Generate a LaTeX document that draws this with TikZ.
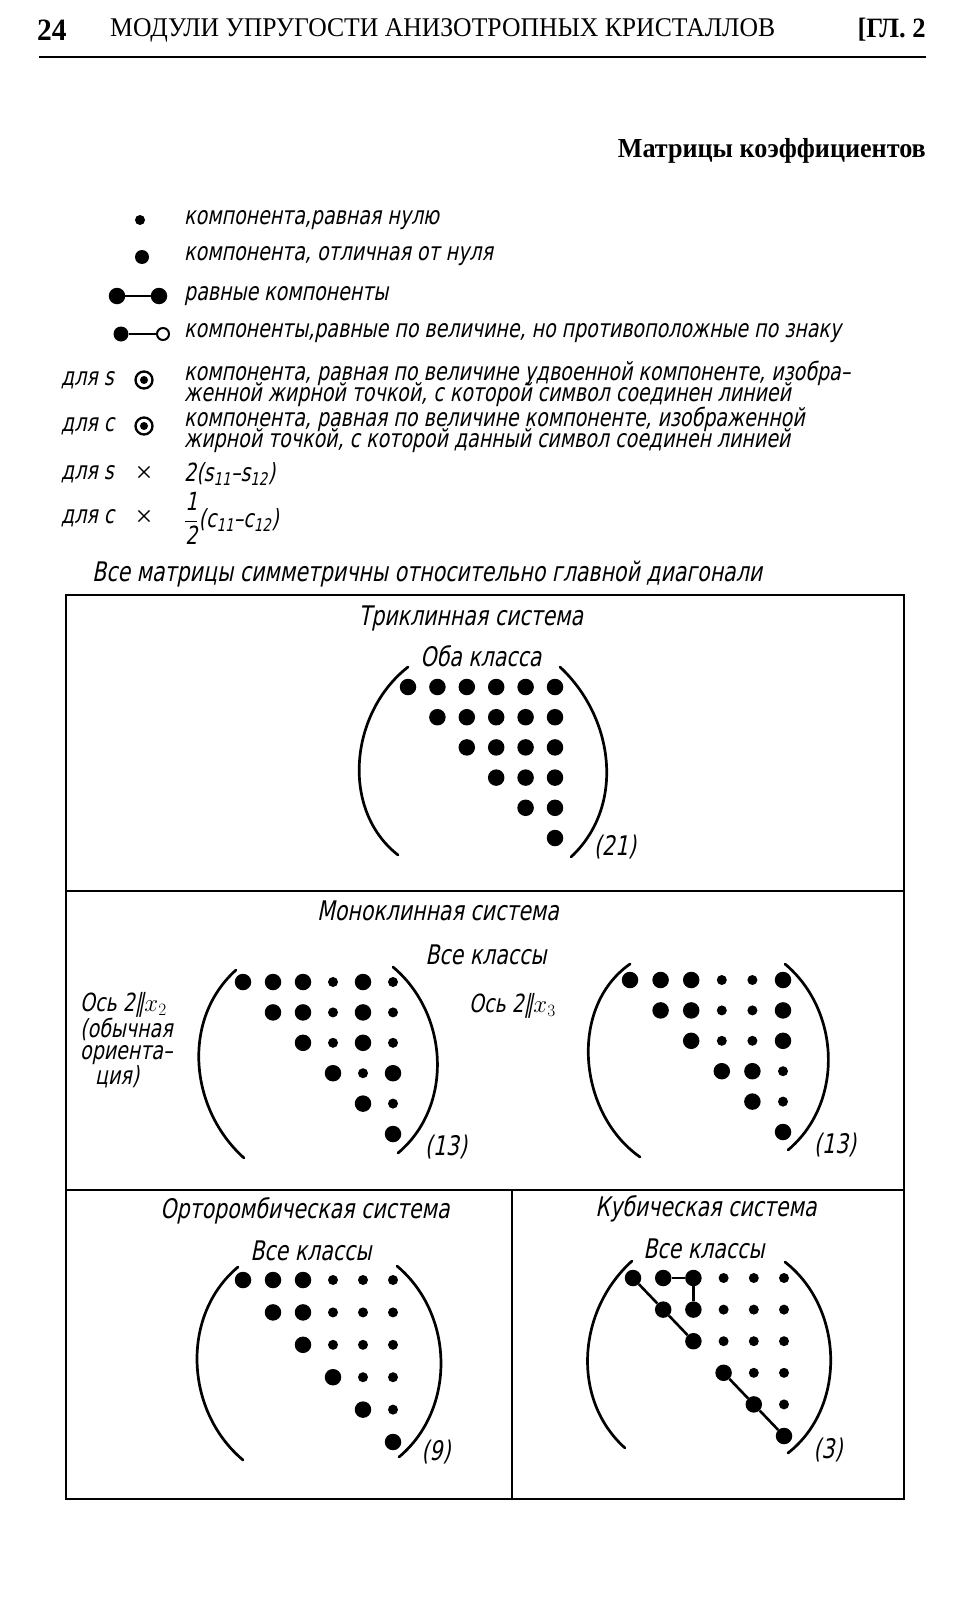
\documentclass[tikz,border=0pt]{standalone}
\usepackage{fontspec}
\setmainfont{Liberation Serif}
\newfontfamily\gost[FakeStretch=0.76,FakeSlant=0.2]{DejaVu Sans}
\newfontfamily\headfont[FakeStretch=0.95]{Liberation Serif}
\usetikzlibrary{positioning}
\newcommand{\tightlines}{\lineskiplimit=-40pt\relax}

% one triangular dot matrix: prefix, dx, dy, list of rows
\newcommand{\dotrows}[4]{%
  \foreach \rw [count=\ri] in {#4} {
    \foreach \kd [count=\ki] in \rw {
      \pgfmathtruncatemacro{\cl}{\ri+\ki-1}
      \node[\kd] (#1\ri\cl) at ({(\cl-1)*#2},{(\ri-1)*#3}) {};
    }
  }%
}

\begin{document}
\begin{tikzpicture}[x=1pt, y=-1pt,
  nz/.style={circle, fill=black, inner sep=0pt, minimum size=16.5pt},
  zr/.style={circle, fill=black, inner sep=0pt, minimum size=10pt},
  bullseye/.style={circle, draw=black, line width=2.3pt, inner sep=0pt, minimum size=17pt,
    path picture={\fill (path picture bounding box.center) circle (4pt);}},
  open dot/.style={circle, draw=black, line width=2pt, fill=white, inner sep=0pt, minimum size=12pt},
  link/.style={line width=2.6pt},
  paren/.style={line width=2.7pt, line cap=round},
  frame/.style={line width=2.4pt},
  legtext/.style={font=\gost\fontsize{25}{21}\selectfont\tightlines, inner sep=0pt, anchor=west, align=left},
  systitle/.style={font=\gost\fontsize{27}{28}\selectfont, inner sep=0pt}
]
  \useasboundingbox (0,0) rectangle (970,1600);

  % running head
  \node[font=\headfont\bfseries\fontsize{31}{32}\selectfont, anchor=west, inner sep=0pt] (pgno) at (37,30) {24};
  \node[font=\headfont\fontsize{27}{30}\selectfont, anchor=west, inner sep=0pt] (runhead) at (110,30) {МОДУЛИ УПРУГОСТИ АНИЗОТРОПНЫХ КРИСТАЛЛОВ};
  \node[font=\headfont\bfseries\fontsize{28}{30}\selectfont, anchor=east, inner sep=0pt] (chap) at (926,30) {[ГЛ. 2};
  \draw[line width=2.5pt] (39,57) -- (926,57);
  \node[font=\headfont\bfseries\fontsize{27.5}{30}\selectfont, anchor=east, inner sep=0pt] (mhead) at (926,151) {Матрицы коэффициентов};

  % legend
  \node[zr, minimum size=10pt] (lzero) at (140,220) {};
  \node[legtext] (tzero) at (184,220) {компонента,равная нулю};
  \node[nz, minimum size=14pt] (lnon) at (142,257) {};
  \node[legtext] (tnon) at (184,256) {компонента, отличная от нуля};
  \node[nz] (eqa) at (117,296) {};
  \node[nz] (eqb) at (159,296) {};
  \draw[link] (eqa) -- (eqb);
  \node[legtext] (teq) at (184,296) {равные компоненты};
  \node[nz, minimum size=15pt] (opa) at (121,334) {};
  \node[open dot] (opb) at (163,334) {};
  \draw[link] (opa) -- (opb);
  \node[legtext] (top) at (184,333) {компоненты,равные по величине, но противоположные по знаку};
  \node[legtext] (fs1) at (61,380) {для s};
  \node[bullseye] (bs) at (144,380) {};
  \node[legtext] (ts) at (184,384) {компонента, равная по величине удвоенной компоненте, изобра–\\женной жирной точкой, с которой символ соединен линией};
  \node[legtext] (fc1) at (61,426) {для c};
  \node[bullseye] (bc) at (144,426) {};
  \node[legtext] (tc) at (184,430) {компонента, равная по величине компоненте, изображенной\\жирной точкой, с которой данный символ соединен линией};
  \node[legtext] (fs2) at (61,474) {для s};
  \node[font=\fontsize{30}{30}\selectfont, inner sep=0pt] (xs) at (144,474) {×};
  \node[legtext] (ts2) at (184,474) {2(s\textsubscript{11}–s\textsubscript{12})};
  \node[legtext] (fc2) at (61,518) {для c};
  \node[font=\fontsize{30}{30}\selectfont, inner sep=0pt] (xc) at (144,518) {×};
  \node[legtext] (tc2) at (184,518) {$\displaystyle\frac{\hbox{\gost 1}}{\hbox{\gost 2}}$(c\textsubscript{11}–c\textsubscript{12})};
  \node[legtext, font=\gost\fontsize{27}{28}\selectfont] (tsym) at (92,574) {Все матрицы симметричны относительно главной диагонали};

  % frame
  \draw[frame] (66,595) rectangle (904,1499);
  \draw[frame] (66,891) -- (904,891);
  \draw[frame] (66,1190) -- (904,1190);
  \draw[frame] (512,1190) -- (512,1499);

  % triclinic
  \node[systitle] (tritl) at (471,618) {Триклинная система};
  \node[systitle] (tricl) at (481,656) {Оба класса};
  \begin{scope}[shift={(408,687)}]
    \dotrows{t}{29.4}{30.2}{{nz,nz,nz,nz,nz,nz},{nz,nz,nz,nz,nz},{nz,nz,nz,nz},{nz,nz,nz},{nz,nz},{nz}}
  \end{scope}
  \draw[paren] (408,667) to[out=218,in=142] (398,855);
  \draw[paren] (560,667) to[out=-43,in=43] (571,857);
  \node[systitle] (trin) at (615,847) {(21)};

  % monoclinic
  \node[systitle] (motl) at (438,911) {Моноклинная система};
  \node[systitle] (mocl) at (486,955) {Все классы};
  \node[legtext, font=\gost\fontsize{25}{21.5}\selectfont] (ax2) at (80,1040) {Ось 2‖$x_2$\\(обычная\\ориента–\\\hspace*{15pt}ция)};
  \node[legtext, font=\gost\fontsize{25}{21.5}\selectfont] (ax3) at (469,1006) {Ось 2‖$x_3$};
  \begin{scope}[shift={(243,982)}]
    \dotrows{a}{30}{30.4}{{nz,nz,nz,zr,nz,zr},{nz,nz,zr,nz,zr},{nz,zr,nz,zr},{nz,zr,nz},{nz,zr},{nz}}
  \end{scope}
  \draw[paren] (236,970) to[out=222,in=138] (244,1158);
  \draw[paren] (393,967) to[out=-40,in=40] (398,1153);
  \node[systitle] (moan) at (446,1147) {(13)};
  \begin{scope}[shift={(630,980)}]
    \dotrows{b}{30.6}{30.4}{{nz,nz,nz,zr,zr,nz},{nz,nz,zr,zr,nz},{nz,zr,zr,nz},{nz,nz,zr},{nz,zr},{nz}}
  \end{scope}
  \draw[paren] (630,964) to[out=215,in=145] (640,1157);
  \draw[paren] (785,964) to[out=-40,in=40] (788,1150);
  \node[systitle] (mobn) at (835,1145) {(13)};

  % orthorhombic
  \node[systitle] (ortl) at (305,1211) {Орторомбическая система};
  \node[systitle] (orcl) at (311,1251) {Все классы};
  \begin{scope}[shift={(243,1280)}]
    \dotrows{o}{30}{32.4}{{nz,nz,nz,zr,zr,zr},{nz,nz,zr,zr,zr},{nz,zr,zr,zr},{nz,zr,zr},{nz,zr},{nz}}
  \end{scope}
  \draw[paren] (238,1267) to[out=220,in=140] (243,1460);
  \draw[paren] (397,1266) to[out=-40,in=40] (399,1457);
  \node[systitle] (orn) at (436,1452) {(9)};

  % cubic
  \node[systitle] (cutl) at (706,1209) {Кубическая система};
  \node[systitle] (cucl) at (704,1249) {Все классы};
  \begin{scope}[shift={(633,1278)}]
    \dotrows{c}{30.2}{31.6}{{nz,nz,nz,zr,zr,zr},{nz,nz,zr,zr,zr},{nz,zr,zr,zr},{nz,zr,zr},{nz,zr},{nz}}
  \end{scope}
  \draw[link] (c11) -- (c22) -- (c33);
  \draw[link] (c12) -- (c13) -- (c23);
  \draw[link] (c44) -- (c55) -- (c66);
  \draw[paren] (632,1261) to[out=222,in=138] (625,1448);
  \draw[paren] (785,1262) to[out=-38,in=38] (788,1453);
  \node[systitle] (cun) at (828,1450) {(3)};
\end{tikzpicture}
\end{document}
